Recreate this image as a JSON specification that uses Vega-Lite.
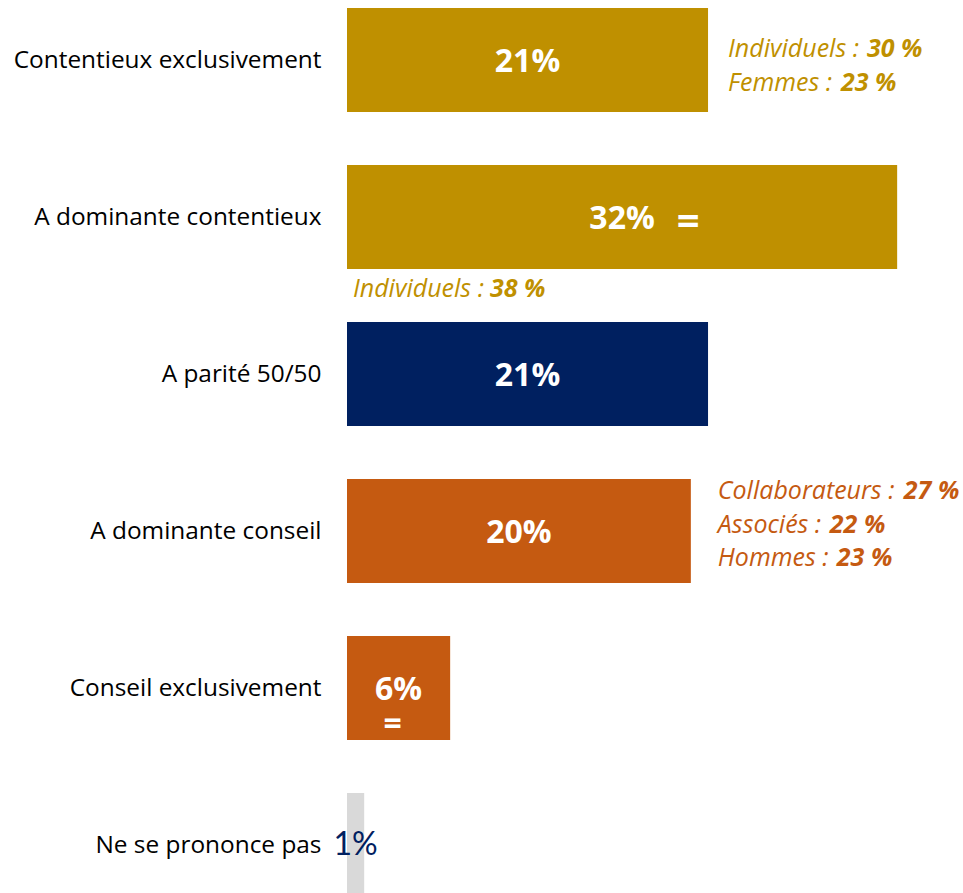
{
  "$schema": "https://vega.github.io/schema/vega-lite/v6.json",
  "width": 616,
  "height": 889,
  "autosize": {"type": "none"},
  "padding": {"left": 347, "top": 8, "right": 0, "bottom": 0},
  "background": "white",
  "config": {"view": {"stroke": null}, "font": "Open Sans"},
  "datasets": {
    "bars": [
      {"cat": "Contentieux exclusivement", "value": 21, "label": "21%", "grp": "contentieux"},
      {"cat": "A dominante contentieux", "value": 32, "label": "32%", "grp": "contentieux"},
      {"cat": "A parité 50/50", "value": 21, "label": "21%", "grp": "parite"},
      {"cat": "A dominante conseil", "value": 20, "label": "20%", "grp": "conseil"},
      {"cat": "Conseil exclusivement", "value": 6, "label": "6%", "grp": "conseil"},
      {"cat": "Ne se prononce pas", "value": 1, "label": "1%", "grp": "nsp"}
    ],
    "ann": [
      {"id": "a", "cat": "Contentieux exclusivement", "value": 21, "label": "Individuels :", "num": "30 %"},
      {"id": "b", "cat": "Contentieux exclusivement", "value": 21, "label": "Femmes :", "num": "23 %"},
      {"id": "c", "cat": "A dominante contentieux", "value": 32, "label": "Individuels :", "num": "38 %"},
      {"id": "d", "cat": "A dominante conseil", "value": 20, "label": "Collaborateurs :", "num": "27 %"},
      {"id": "e", "cat": "A dominante conseil", "value": 20, "label": "Associés :", "num": "22 %"},
      {"id": "f", "cat": "A dominante conseil", "value": 20, "label": "Hommes :", "num": "23 %"}
    ]
  },
  "data": {"name": "bars"},
  "encoding": {
    "y": {
      "field": "cat", "type": "nominal",
      "sort": ["Contentieux exclusivement", "A dominante contentieux", "A parité 50/50", "A dominante conseil", "Conseil exclusivement", "Ne se prononce pas"],
      "scale": {"paddingInner": 0.3376, "paddingOuter": 0},
      "axis": {"title": null, "ticks": false, "domain": false, "labelPadding": 26, "labelFontSize": 24.4, "labelColor": "#000000", "labelFont": "Open Sans", "labelLimit": 0, "labelOffset": 1}
    }
  },
  "layer": [
    {
      "mark": {"type": "bar"},
      "encoding": {
        "x": {"field": "value", "type": "quantitative", "scale": {"domain": [0, 35.83], "nice": false, "zero": true}, "axis": null},
        "color": {"field": "grp", "type": "nominal", "scale": {"domain": ["contentieux", "parite", "conseil", "nsp"], "range": ["#BF9000", "#002060", "#C55A11", "#D9D9D9"]}, "legend": null}
      }
    },
    {
      "transform": [{"filter": "datum.value >= 5"}, {"calculate": "datum.value / 2", "as": "mid"}],
      "mark": {"type": "text", "color": "white", "fontWeight": "bold", "fontSize": 32, "baseline": "middle", "align": "center", "dy": 2},
      "encoding": {"x": {"field": "mid", "type": "quantitative"}, "text": {"field": "label"}}
    },
    {
      "transform": [{"filter": "datum.value < 5"}, {"calculate": "datum.value / 2", "as": "mid"}],
      "mark": {"type": "text", "color": "#002060", "font": "Lato", "fontSize": 32, "baseline": "middle", "align": "center"},
      "encoding": {"x": {"field": "mid", "type": "quantitative"}, "text": {"field": "label"}}
    },
    {
      "transform": [{"filter": "datum.cat == 'A dominante contentieux'"}, {"calculate": "datum.value / 2", "as": "mid"}],
      "mark": {"type": "text", "text": "=", "color": "white", "fontWeight": "bold", "fontSize": 40, "baseline": "middle", "align": "center", "dx": 66, "dy": 6},
      "encoding": {"x": {"field": "mid", "type": "quantitative"}}
    },
    {
      "transform": [{"filter": "datum.cat == 'Conseil exclusivement'"}, {"calculate": "datum.value / 2", "as": "mid"}],
      "mark": {"type": "text", "text": "=", "color": "white", "fontWeight": "bold", "fontSize": 32, "baseline": "middle", "align": "center", "dx": -6, "dy": 37},
      "encoding": {"x": {"field": "mid", "type": "quantitative"}}
    },
    {
      "data": {"name": "ann"}, "transform": [{"filter": "datum.id == 'a'"}],
      "mark": {"type": "text", "color": "#BF9000", "fontStyle": "italic", "fontSize": 25, "baseline": "alphabetic", "align": "left", "dx": 20, "dy": -3},
      "encoding": {"x": {"field": "value", "type": "quantitative"}, "text": {"field": "label"}}
    },
    {
      "data": {"name": "ann"}, "transform": [{"filter": "datum.id == 'a'"}],
      "mark": {"type": "text", "color": "#BF9000", "fontStyle": "italic", "fontWeight": "bold", "fontSize": 25, "baseline": "alphabetic", "align": "left", "dx": 159, "dy": -3},
      "encoding": {"x": {"field": "value", "type": "quantitative"}, "text": {"field": "num"}}
    },
    {
      "data": {"name": "ann"}, "transform": [{"filter": "datum.id == 'b'"}],
      "mark": {"type": "text", "color": "#BF9000", "fontStyle": "italic", "fontSize": 25, "baseline": "alphabetic", "align": "left", "dx": 20, "dy": 31},
      "encoding": {"x": {"field": "value", "type": "quantitative"}, "text": {"field": "label"}}
    },
    {
      "data": {"name": "ann"}, "transform": [{"filter": "datum.id == 'b'"}],
      "mark": {"type": "text", "color": "#BF9000", "fontStyle": "italic", "fontWeight": "bold", "fontSize": 25, "baseline": "alphabetic", "align": "left", "dx": 133, "dy": 31},
      "encoding": {"x": {"field": "value", "type": "quantitative"}, "text": {"field": "num"}}
    },
    {
      "data": {"name": "ann"}, "transform": [{"filter": "datum.id == 'c'"}],
      "mark": {"type": "text", "color": "#BF9000", "fontStyle": "italic", "fontSize": 25, "baseline": "alphabetic", "align": "left", "dx": 6, "dy": 80},
      "encoding": {"x": {"datum": 0, "type": "quantitative"}, "text": {"field": "label"}}
    },
    {
      "data": {"name": "ann"}, "transform": [{"filter": "datum.id == 'c'"}],
      "mark": {"type": "text", "color": "#BF9000", "fontStyle": "italic", "fontWeight": "bold", "fontSize": 25, "baseline": "alphabetic", "align": "left", "dx": 143, "dy": 80},
      "encoding": {"x": {"datum": 0, "type": "quantitative"}, "text": {"field": "num"}}
    },
    {
      "data": {"name": "ann"}, "transform": [{"filter": "datum.id == 'd'"}],
      "mark": {"type": "text", "color": "#C55A11", "fontStyle": "italic", "fontSize": 25, "baseline": "alphabetic", "align": "left", "dx": 27, "dy": -32},
      "encoding": {"x": {"field": "value", "type": "quantitative"}, "text": {"field": "label"}}
    },
    {
      "data": {"name": "ann"}, "transform": [{"filter": "datum.id == 'd'"}],
      "mark": {"type": "text", "color": "#C55A11", "fontStyle": "italic", "fontWeight": "bold", "fontSize": 25, "baseline": "alphabetic", "align": "left", "dx": 213, "dy": -32},
      "encoding": {"x": {"field": "value", "type": "quantitative"}, "text": {"field": "num"}}
    },
    {
      "data": {"name": "ann"}, "transform": [{"filter": "datum.id == 'e'"}],
      "mark": {"type": "text", "color": "#C55A11", "fontStyle": "italic", "fontSize": 25, "baseline": "alphabetic", "align": "left", "dx": 27, "dy": 2},
      "encoding": {"x": {"field": "value", "type": "quantitative"}, "text": {"field": "label"}}
    },
    {
      "data": {"name": "ann"}, "transform": [{"filter": "datum.id == 'e'"}],
      "mark": {"type": "text", "color": "#C55A11", "fontStyle": "italic", "fontWeight": "bold", "fontSize": 25, "baseline": "alphabetic", "align": "left", "dx": 139, "dy": 2},
      "encoding": {"x": {"field": "value", "type": "quantitative"}, "text": {"field": "num"}}
    },
    {
      "data": {"name": "ann"}, "transform": [{"filter": "datum.id == 'f'"}],
      "mark": {"type": "text", "color": "#C55A11", "fontStyle": "italic", "fontSize": 25, "baseline": "alphabetic", "align": "left", "dx": 27, "dy": 35},
      "encoding": {"x": {"field": "value", "type": "quantitative"}, "text": {"field": "label"}}
    },
    {
      "data": {"name": "ann"}, "transform": [{"filter": "datum.id == 'f'"}],
      "mark": {"type": "text", "color": "#C55A11", "fontStyle": "italic", "fontWeight": "bold", "fontSize": 25, "baseline": "alphabetic", "align": "left", "dx": 146, "dy": 35},
      "encoding": {"x": {"field": "value", "type": "quantitative"}, "text": {"field": "num"}}
    }
  ]
}
